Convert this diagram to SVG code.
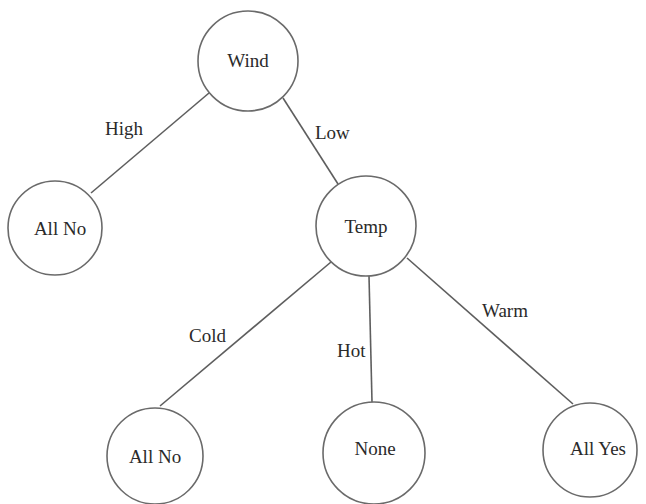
<svg xmlns="http://www.w3.org/2000/svg" width="646" height="504" viewBox="0 0 646 504">
  <style>
    .node circle { fill: #ffffff; stroke: #6a6a6a; stroke-width: 1.6; }
    .node text, .label { font-family: "Liberation Serif", "Times New Roman", serif; font-size: 19px; fill: #2a2a2a; }
    .node text { text-anchor: middle; }
    .edges line { stroke: #5e5e5e; stroke-width: 1.6; }
  </style>
  <rect width="646" height="504" fill="#ffffff"/>

  <!-- connectors with their branch labels -->
  <g id="edges" class="edges">
    <line x1="209" y1="93" x2="91" y2="193"/>
    <line x1="283" y1="98" x2="338" y2="184"/>
    <line x1="331" y1="262" x2="160" y2="406"/>
    <line x1="369" y1="276" x2="372" y2="402"/>
    <line x1="407" y1="258" x2="573" y2="404"/>
    <text class="label" x="105" y="135">High</text>
    <text class="label" x="315" y="139">Low</text>
    <text class="label" x="189" y="342">Cold</text>
    <text class="label" x="337" y="357">Hot</text>
    <text class="label" x="482" y="317">Warm</text>
  </g>

  <g id="wind" class="node">
    <circle cx="248" cy="61" r="50"/>
    <text x="248" y="67">Wind</text>
  </g>
  <g id="all-no-high" class="node">
    <circle cx="55" cy="228" r="47"/>
    <text x="60" y="235">All No</text>
  </g>
  <g id="temp" class="node">
    <circle cx="366" cy="226" r="50"/>
    <text x="366" y="233">Temp</text>
  </g>
  <g id="all-no-cold" class="node">
    <circle cx="155" cy="456" r="48"/>
    <text x="155" y="463">All No</text>
  </g>
  <g id="none" class="node">
    <circle cx="374" cy="453" r="51"/>
    <text x="375" y="455">None</text>
  </g>
  <g id="all-yes" class="node">
    <circle cx="590" cy="450" r="47"/>
    <text x="598" y="455">All Yes</text>
  </g>
</svg>
